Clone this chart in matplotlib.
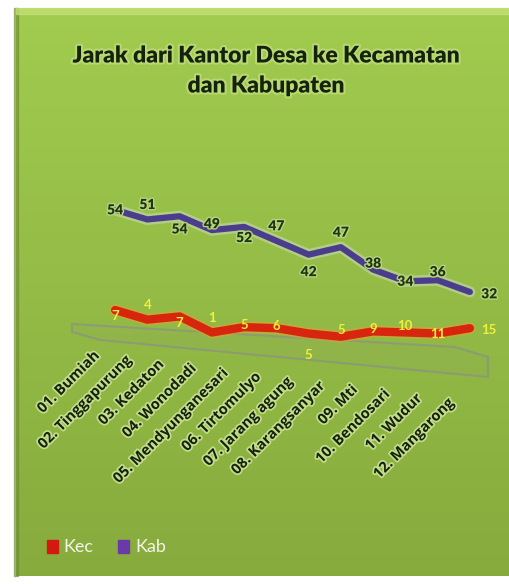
import numpy as np
import matplotlib
matplotlib.use("Agg")
import matplotlib.pyplot as plt
from matplotlib.transforms import Affine2D
from matplotlib.patches import Polygon, Rectangle
import matplotlib.patheffects as pe

# ---- data ----
desa = ["01. Bumiah", "02. Tinggapurung", "03. Kedaton", "04. Wonodadi",
        "05. Mendyunganesari", "06. Tirtomulyo", "07. Jarang agung",
        "08. Karangsanyar", "09. Mti", "10. Bendosari", "11. Wudur",
        "12. Mangarong"]
kec = [7, 4, 7, 1, 5, 6, 5, 5, 9, 10, 11, 15]
kab = [54, 51, 54, 49, 52, 47, 42, 47, 38, 34, 36, 32]

W, H = 509, 584
fig = plt.figure(figsize=(W / 100, H / 100), dpi=100)
fig.patch.set_facecolor("white")

# green panel with a soft vertical gradient
bg = fig.add_axes([0, 0, 1, 1])
bg.set_xlim(0, W)
bg.set_ylim(H, 0)
bg.axis("off")
grad = np.linspace(0, 1, 256).reshape(-1, 1)
top = np.array([0.63, 0.80, 0.31])
bot = np.array([0.53, 0.67, 0.24])
img = top + (bot - top) * grad[..., None]
bg.imshow(img, extent=(16, W, 576, 8), aspect="auto", zorder=0)
bg.add_patch(Rectangle((14, 8), 4, 568, color="#6f8d2e", alpha=0.6, zorder=1))
bg.add_patch(Rectangle((16, 8), W - 16, 6, color="#c9e27a", alpha=0.7, zorder=1))
# floor of the 3D plot area
floor_pts = [(72, 324), (455, 347), (488, 357), (488, 377), (100, 340), (72, 332)]
bg.add_patch(Polygon(floor_pts, closed=True, facecolor="#8a9a80", alpha=0.10,
                     edgecolor="none", zorder=1))
bg.add_patch(Polygon(floor_pts, closed=True, fill=False, edgecolor="#8a9284", lw=1.5,
                     alpha=0.7, zorder=1))

title_fx = [pe.withStroke(linewidth=3, foreground="#b8d870")]
bg.text(266, 56, "Jarak dari Kantor Desa ke Kecamatan", ha="center", va="center",
        fontsize=16.5, fontweight="heavy", family="Lato", color="#15220d",
        path_effects=title_fx)
bg.text(266, 86, "dan Kabupaten", ha="center", va="center",
        fontsize=16.5, fontweight="heavy", family="Lato", color="#15220d",
        path_effects=title_fx)

# plot axes, with a shear that gives the perspective slope
ax = fig.add_axes([99 / W, (H - 380) / H, 387 / W, 200 / H])
ax.set_xlim(-0.5, 11.5)
ax.set_ylim(-25.8, 68)
ax.axis("off")
ax.patch.set_alpha(0)
shear = Affine2D(np.array([[1.0, 0.0, 0.0], [-1.5, 1.0, 0.0], [0.0, 0.0, 1.0]]))
tr = shear + ax.transData

x = np.arange(len(desa))
halo = [pe.Stroke(linewidth=8, foreground="#c8d8b0", alpha=0.6), pe.Normal()]
ax.plot(x, kab, color="#4b3d8e", lw=4.5, transform=tr, solid_capstyle="round",
        path_effects=halo, zorder=3)
ax.plot(x, kec, color="#d8260e", lw=6, transform=tr, solid_capstyle="round",
        path_effects=[pe.Stroke(linewidth=8.5, foreground="#e8a030", alpha=0.5), pe.Normal()],
        zorder=3)

kab_dy = [0, 7, -6, 3, -5, 7, -8, 7, 3, 0, 4, 0]
kab_dx = [0, 0, 0, 0, 0, 0, 0, 0, 0, 0, 0, 0.6]
for i, v in enumerate(kab):
    ax.text(i + kab_dx[i], v + kab_dy[i], str(v), transform=tr, ha="center", va="center",
            fontsize=10, fontweight="heavy", family="Lato", color="#1e3414",
            path_effects=[pe.withStroke(linewidth=2, foreground="#b5d47a")], zorder=5)

kec_dy = [-3, 7, -3, 7, 1, 1, -10, 3, 1, 3, 0, 0]
kec_dx = [0, 0, 0, 0, 0, 0, 0, 0, 0, 0, 0, 0.6]
for i, v in enumerate(kec):
    ax.text(i + kec_dx[i], v + kec_dy[i], str(v), transform=tr, ha="center", va="center",
            fontsize=9.5, fontweight="bold", family="Lato", color="#f2f03a", zorder=5)

for i, name in enumerate(desa):
    ax.text(i - 0.7, -12 - 0.5 * i, name, transform=tr, rotation=45,
            rotation_mode="anchor", ha="right", va="top",
            fontsize=10.5, fontweight="bold", family="Open Sans", color="#15220d",
            path_effects=[pe.withStroke(linewidth=2.5, foreground="#c2dc8a")],
            clip_on=False, zorder=5)

# legend
bg.add_patch(Rectangle((47, 540), 11, 13, color="#d41a10", zorder=4))
bg.text(63, 547, "Kec", ha="left", va="center", fontsize=13, family="Lato",
        color="#f4f4e6", zorder=5)
bg.add_patch(Rectangle((118, 540), 11, 13, color="#6a3aa8", zorder=4))
bg.text(135, 547, "Kab", ha="left", va="center", fontsize=13, family="Lato",
        color="#f4f4e6", zorder=5)

fig.savefig("out.png", dpi=100)
